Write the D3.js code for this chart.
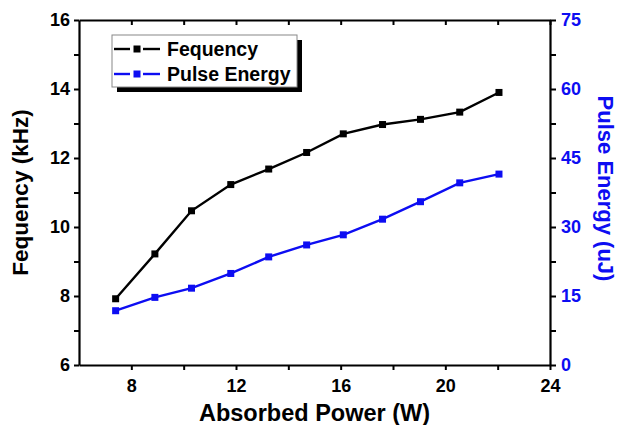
<!DOCTYPE html>
<html>
<head>
<meta charset="utf-8">
<script src="https://cdn.jsdelivr.net/npm/d3@7"></script>
<style>
  body { margin: 0; background: #fff; }
  text { font-family: "Liberation Sans", Arial, sans-serif; font-weight: bold; }
</style>
</head>
<body>
<div id="chart"></div>
<script>
// values
const power = [7.4, 8.9, 10.3, 11.8, 13.25, 14.7, 16.1, 17.6, 19.05, 20.55, 22.05]
const frequency = [7.92, 9.22, 10.47, 11.23, 11.68, 12.16, 12.70, 12.97, 13.12, 13.33, 13.90]
const energy = [11.8, 14.7, 16.7, 19.9, 23.5, 26.1, 28.3, 31.7, 35.5, 39.6, 41.5]
const xTicks = [8, 10, 12, 14, 16, 18, 20, 22, 24]
const xLabels = [8, 12, 16, 20, 24]
const yLeftTicks = [6, 7, 8, 9, 10, 11, 12, 13, 14, 15, 16]
const yLeftLabels = [6, 8, 10, 12, 14, 16]
const yRightTicks = [0, 7.5, 15, 22.5, 30, 37.5, 45, 52.5, 60, 67.5, 75]
const yRightLabels = [0, 15, 30, 45, 60, 75]
const seriesNames = ["Fequency", "Pulse Energy"]

const blue = "#0d0df2"

const margin = { top: 20, right: 79, bottom: 60, left: 79 },
    width = 629 - margin.left - margin.right,
    height = 425 - margin.top - margin.bottom;

const svg = d3.select("#chart")
    .append("svg")
    .attr("width", 629)
    .attr("height", 425)
    .append("g")
    .attr("transform", "translate(" + margin.left + "," + margin.top + ")");

const x = d3.scaleLinear().domain([6, 24]).range([0, width])
const yL = d3.scaleLinear().domain([6, 16]).range([height, 0])
const yR = d3.scaleLinear().domain([0, 75]).range([height, 0])

function styleAxis(g, color) {
    g.select(".domain").attr("stroke", "#000").attr("stroke-width", 2.2)
    g.selectAll(".tick line").attr("stroke", "#000").attr("stroke-width", 2)
    g.selectAll("text").attr("fill", color).style("font-size", "18px")
}

// bottom axis
const xAxis = svg.append("g")
    .attr("transform", `translate(0,${height})`)
    .call(d3.axisBottom(x).tickValues(xTicks).tickSize(5).tickSizeOuter(0)
        .tickFormat(d => xLabels.includes(d) ? d : ""))
styleAxis(xAxis, "#000")
xAxis.selectAll("text").attr("dy", "1.05em")

// top axis, ticks inward, no labels
const topAxis = svg.append("g")
    .call(d3.axisBottom(x).tickValues(xTicks).tickSize(5).tickSizeOuter(0).tickFormat(""))
styleAxis(topAxis, "#000")

// left axis
const leftAxis = svg.append("g")
    .call(d3.axisLeft(yL).tickValues(yLeftTicks).tickSize(5).tickSizeOuter(0)
        .tickFormat(d => yLeftLabels.includes(d) ? d : ""))
styleAxis(leftAxis, "#000")
leftAxis.selectAll("text").attr("x", -9)

// right axis
const rightAxis = svg.append("g")
    .attr("transform", `translate(${width},0)`)
    .call(d3.axisRight(yR).tickValues(yRightTicks).tickSize(6).tickSizeOuter(0)
        .tickFormat(d => yRightLabels.includes(d) ? d : ""))
styleAxis(rightAxis, blue)
rightAxis.selectAll("text").attr("x", 11)

// lines
const freqLine = d3.line().x((d, i) => x(power[i])).y(d => yL(d))
const energyLine = d3.line().x((d, i) => x(power[i])).y(d => yR(d))

svg.append("path")
    .datum(frequency)
    .attr("fill", "none")
    .attr("stroke", "#000")
    .attr("stroke-width", 2.4)
    .attr("d", freqLine)

svg.append("path")
    .datum(energy)
    .attr("fill", "none")
    .attr("stroke", blue)
    .attr("stroke-width", 2.4)
    .attr("d", energyLine)

svg.selectAll(".fm")
    .data(frequency)
    .enter()
    .append("rect")
    .attr("x", (d, i) => x(power[i]) - 3.5)
    .attr("y", d => yL(d) - 3.5)
    .attr("width", 7)
    .attr("height", 7)
    .attr("fill", "#000")

svg.selectAll(".em")
    .data(energy)
    .enter()
    .append("rect")
    .attr("x", (d, i) => x(power[i]) - 3.5)
    .attr("y", d => yR(d) - 3.5)
    .attr("width", 7)
    .attr("height", 7)
    .attr("fill", blue)

// axis titles
svg.append("text")
    .attr("x", width / 2)
    .attr("y", height + 56)
    .attr("text-anchor", "middle")
    .style("font-size", "23.5px")
    .text("Absorbed Power (W)")

svg.append("text")
    .attr("transform", `translate(${-51},${height / 2}) rotate(-90)`)
    .attr("text-anchor", "middle")
    .style("font-size", "22.5px")
    .text("Fequency (kHz)")

svg.append("text")
    .attr("transform", `translate(${width + 48},${height / 2 - 4}) rotate(90)`)
    .attr("text-anchor", "middle")
    .attr("fill", blue)
    .style("font-size", "22px")
    .text("Pulse Energy (uJ)")

// legend
const legend = svg.append("g").attr("transform", "translate(33,15)")
legend.append("rect")
    .attr("x", 5).attr("y", 5)
    .attr("width", 185).attr("height", 52)
    .attr("fill", "#000")
legend.append("rect")
    .attr("x", 0).attr("y", 0)
    .attr("width", 185).attr("height", 52)
    .attr("fill", "#fff")
    .attr("stroke", "#888")
    .attr("stroke-width", 1)

const colors = ["#000", blue]
seriesNames.forEach((name, i) => {
    const cy = 14 + i * 25
    legend.append("line")
        .attr("x1", 2).attr("x2", 18).attr("y1", cy).attr("y2", cy)
        .attr("stroke", colors[i]).attr("stroke-width", 2.4)
    legend.append("line")
        .attr("x1", 31).attr("x2", 48).attr("y1", cy).attr("y2", cy)
        .attr("stroke", colors[i]).attr("stroke-width", 2.4)
    legend.append("rect")
        .attr("x", 21.5).attr("y", cy - 3.5)
        .attr("width", 7).attr("height", 7)
        .attr("fill", colors[i])
    legend.append("text")
        .attr("x", 55).attr("y", cy + 7)
        .style("font-size", "19.5px")
        .text(name)
})
</script>
</body>
</html>
